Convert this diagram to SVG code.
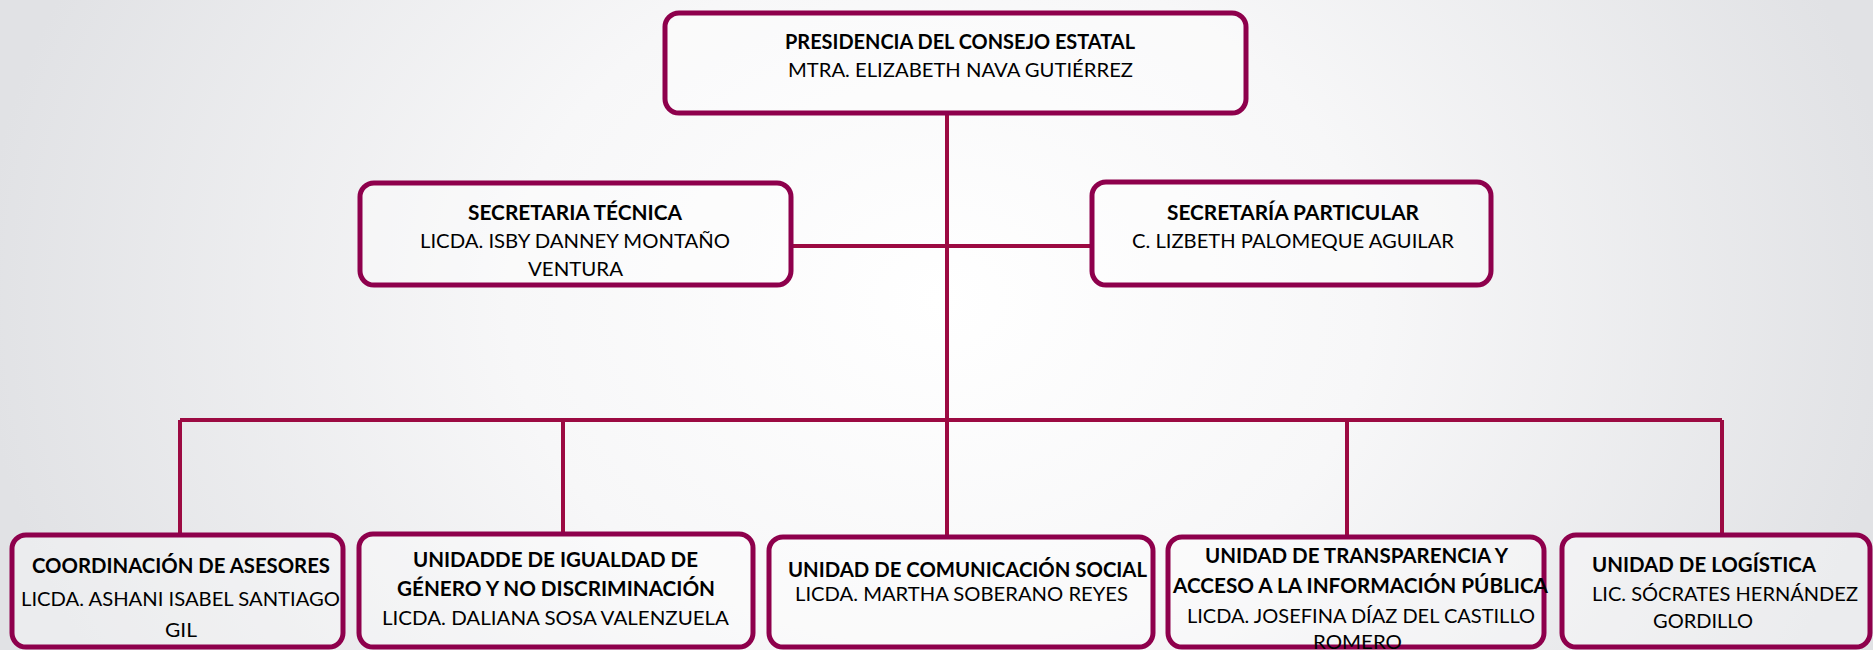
<svg xmlns="http://www.w3.org/2000/svg" width="1873" height="650" viewBox="0 0 1873 650">
<defs>
<radialGradient id="bg" gradientUnits="userSpaceOnUse" cx="940" cy="300" r="960" gradientTransform="translate(940 300) scale(1 0.8) translate(-940 -300)">
<stop offset="0" stop-color="#ffffff"/>
<stop offset="0.45" stop-color="#f7f7f8"/>
<stop offset="1" stop-color="#e1e2e5"/>
</radialGradient>
</defs>
<style>
.box{fill:#ffffff;fill-opacity:0.35;stroke:#8e004c;stroke-width:5}
.con{fill:none;stroke:#9c0a42;stroke-width:4}
text{font-family:Lato,"Liberation Sans",sans-serif;font-size:20px;fill:#000000}
.b{font-weight:bold}
</style>
<rect x="0" y="0" width="1873" height="650" fill="url(#bg)"/>
<g id="connectors">
<path class="con" d="M947 115 V535"/>
<path class="con" d="M793 246 H1090"/>
<path class="con" d="M180 420 H1722"/>
<path class="con" d="M180 420 V533"/>
<path class="con" d="M563 420 V532"/>
<path class="con" d="M1347 420 V535"/>
<path class="con" d="M1722 420 V533"/>
</g>
<g id="presidencia">
<rect class="box" x="665" y="13" width="581" height="100" rx="14"/>
<text class="b" x="785" y="49" textLength="350" lengthAdjust="spacingAndGlyphs">PRESIDENCIA DEL CONSEJO ESTATAL</text>
<text x="788" y="77" textLength="345" lengthAdjust="spacingAndGlyphs">MTRA. ELIZABETH NAVA GUTIÉRREZ</text>
</g>
<g id="secretaria-tecnica">
<rect class="box" x="360" y="183" width="431" height="102" rx="14"/>
<text class="b" x="468" y="220" textLength="214" lengthAdjust="spacingAndGlyphs">SECRETARIA TÉCNICA</text>
<text x="420" y="248" textLength="310" lengthAdjust="spacingAndGlyphs">LICDA. ISBY DANNEY MONTAÑO</text>
<text x="528" y="276" textLength="95" lengthAdjust="spacingAndGlyphs">VENTURA</text>
</g>
<g id="secretaria-particular">
<rect class="box" x="1092" y="182" width="399" height="103" rx="14"/>
<text class="b" x="1167" y="220" textLength="252" lengthAdjust="spacingAndGlyphs">SECRETARÍA PARTICULAR</text>
<text x="1132" y="248" textLength="322" lengthAdjust="spacingAndGlyphs">C. LIZBETH PALOMEQUE AGUILAR</text>
</g>
<g id="coordinacion-asesores">
<rect class="box" x="12" y="535" width="331" height="112" rx="14"/>
<text class="b" x="32" y="573" textLength="298" lengthAdjust="spacingAndGlyphs">COORDINACIÓN DE ASESORES</text>
<text x="21" y="606" textLength="319" lengthAdjust="spacingAndGlyphs">LICDA. ASHANI ISABEL SANTIAGO</text>
<text x="165" y="637" textLength="32" lengthAdjust="spacingAndGlyphs">GIL</text>
</g>
<g id="unidad-igualdad">
<rect class="box" x="359" y="534" width="394" height="113" rx="14"/>
<text class="b" x="413" y="567" textLength="285" lengthAdjust="spacingAndGlyphs">UNIDADDE DE IGUALDAD DE</text>
<text class="b" x="397" y="596" textLength="318" lengthAdjust="spacingAndGlyphs">GÉNERO Y NO DISCRIMINACIÓN</text>
<text x="382" y="625" textLength="347" lengthAdjust="spacingAndGlyphs">LICDA. DALIANA SOSA VALENZUELA</text>
</g>
<g id="unidad-comunicacion">
<rect class="box" x="769" y="537" width="384" height="110" rx="14"/>
<text class="b" x="788" y="577" textLength="359" lengthAdjust="spacingAndGlyphs">UNIDAD DE COMUNICACIÓN SOCIAL</text>
<text x="795" y="601" textLength="333" lengthAdjust="spacingAndGlyphs">LICDA. MARTHA SOBERANO REYES</text>
</g>
<g id="unidad-transparencia">
<rect class="box" x="1168" y="537" width="376" height="110" rx="14"/>
<text class="b" x="1205" y="563" textLength="303" lengthAdjust="spacingAndGlyphs">UNIDAD DE TRANSPARENCIA Y</text>
<text class="b" x="1173" y="593" textLength="375" lengthAdjust="spacingAndGlyphs">ACCESO A LA INFORMACIÓN PÚBLICA</text>
<text x="1187" y="623" textLength="348" lengthAdjust="spacingAndGlyphs">LICDA. JOSEFINA DÍAZ DEL CASTILLO</text>
<text x="1313" y="649" textLength="89" lengthAdjust="spacingAndGlyphs">ROMERO</text>
</g>
<g id="unidad-logistica">
<rect class="box" x="1562" y="535" width="308" height="112" rx="14"/>
<text class="b" x="1592" y="572" textLength="224" lengthAdjust="spacingAndGlyphs">UNIDAD DE LOGÍSTICA</text>
<text x="1592" y="601" textLength="266" lengthAdjust="spacingAndGlyphs">LIC. SÓCRATES HERNÁNDEZ</text>
<text x="1653" y="628" textLength="100" lengthAdjust="spacingAndGlyphs">GORDILLO</text>
</g>
</svg>
